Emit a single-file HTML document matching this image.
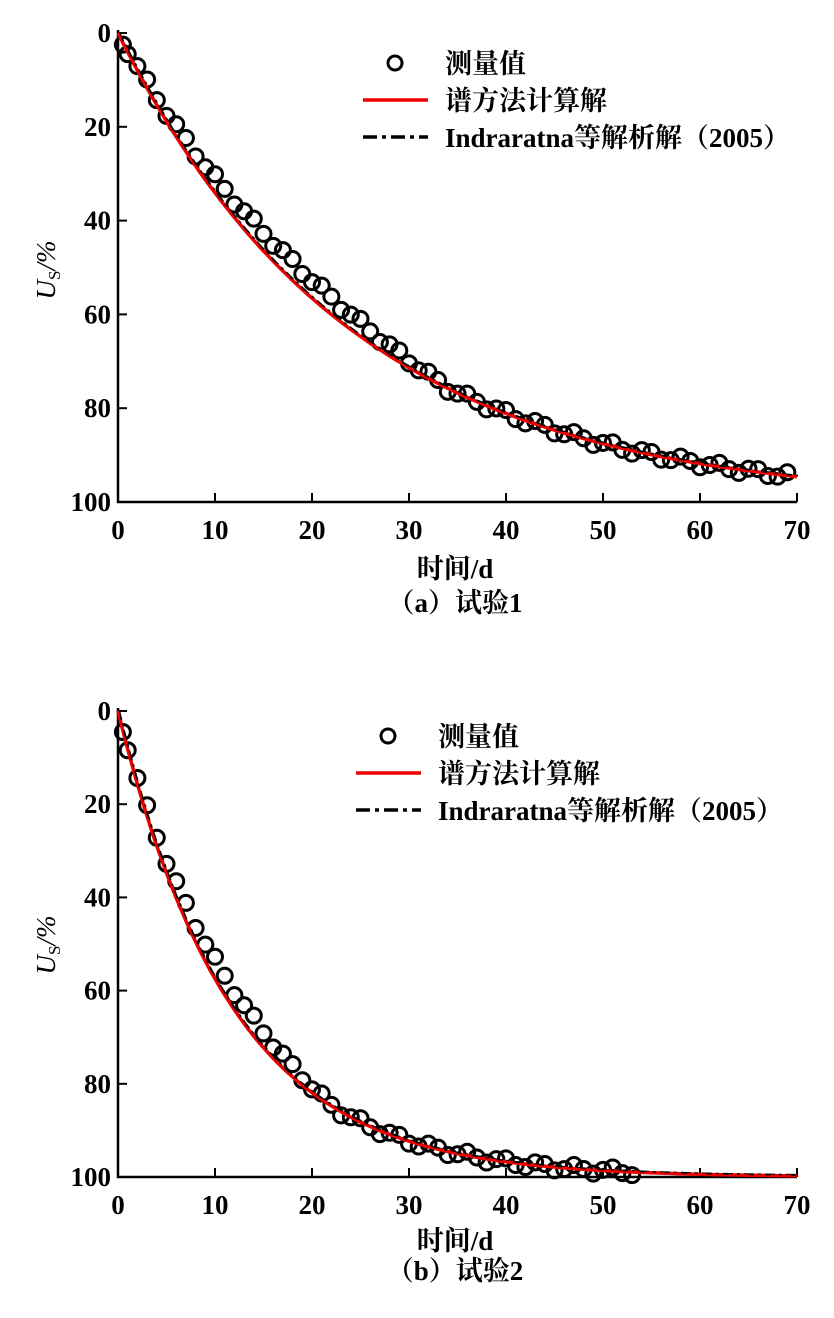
<!DOCTYPE html>
<html><head><meta charset="utf-8"><style>
body{margin:0;background:#fff;width:834px;height:1313px;overflow:hidden}
svg text{font-family:"Liberation Serif","Noto Serif CJK SC",serif;fill:#000}
</style></head><body>
<svg id="s" width="834" height="1313" xmlns="http://www.w3.org/2000/svg">
</svg>
<script>
var s=document.getElementById('s'),NS='http://www.w3.org/2000/svg';
function el(n,a,t){var e=document.createElementNS(NS,n);for(var k in a)e.setAttribute(k,a[k]);if(t)e.textContent=t;s.appendChild(e);return e;}
function chart(y0,y1,tau,amp,span,leg,cap,capY,tY,labY){
 var x0=118,x1=797,kx=(x1-x0)/70,ky=(y1-y0)/100;
 function X(t){return x0+t*kx}function Y(u){return y0+u*ky}
 el('path',{d:'M'+x0+' '+(y0-3)+'V'+y1+'H'+x1,stroke:'#000','stroke-width':2.5,fill:'none'});
 for(var i=0;i<=5;i++){var yy=Y(i*20);el('line',{x1:x0,x2:x0+9,y1:yy,y2:yy,stroke:'#000','stroke-width':2});
  el('text',{x:x0-7,y:yy+9,'font-size':27,'font-weight':'bold','text-anchor':'end'},String(i*20));}
 for(var i=0;i<=7;i++){var xx=X(i*10);el('line',{x1:xx,x2:xx,y1:y1,y2:y1-9,stroke:'#000','stroke-width':2});
  el('text',{x:xx,y:y1+37,'font-size':27,'font-weight':'bold','text-anchor':'middle'},String(i*10));}
 var pts=[];for(var t=0;t<=70;t+=0.5)pts.push(X(t).toFixed(1)+','+Y(100*(1-Math.exp(-t/tau))).toFixed(1));
 var ts=[0.5];for(var t=1;t<=leg.mEnd;t+=1)ts.push(t);
 ts.forEach(function(t){var uc=100*(1-Math.exp(-t/tau));
  var b=t<span?amp*Math.sin(Math.PI*t/span):0;
  var um=Math.min(100,uc-b+Math.sin(t*1.7)*0.8);
  el('circle',{cx:X(t),cy:Y(um),r:7.5,fill:'none',stroke:'#000','stroke-width':3});});
 el('polyline',{points:pts.join(' '),fill:'none',stroke:'#e00','stroke-width':3.5});
 el('polyline',{points:pts.join(' '),fill:'none',stroke:'#000','stroke-width':1.8,'stroke-dasharray':'10,4,3,4',transform:'translate(1,-1)'});
 el('polyline',{points:pts.join(' '),fill:'none',stroke:'#e00','stroke-width':2,'stroke-dasharray':'6,8'});
 var lx=leg.x,ly=leg.y;
 el('circle',{cx:lx+32,cy:ly,r:7,fill:'none',stroke:'#000','stroke-width':3});
 el('line',{x1:lx,x2:lx+65,y1:ly+37,y2:ly+37,stroke:'#e00','stroke-width':3.5});
 el('line',{x1:lx,x2:lx+65,y1:ly+74,y2:ly+74,stroke:'#000','stroke-width':3.5,'stroke-dasharray':'14,5,4,5'});
 var tx=lx+82;
 el('text',{x:tx,y:ly+10,'font-size':27,'font-weight':'bold'},'测量值');
 el('text',{x:tx,y:ly+47,'font-size':27,'font-weight':'bold'},'谱方法计算解');
 el('text',{x:tx,y:ly+84,'font-size':27,'font-weight':'bold'},'Indraratna等解析解（2005）');
 var t=el('text',{x:0,y:0,'font-size':27,'font-style':'italic',transform:'translate(55,'+labY+') rotate(-90)','text-anchor':'middle'},'');
 t.innerHTML='U<tspan font-size="17" font-style="normal" dy="5">S</tspan><tspan dy="-5">/%</tspan>';
 el('text',{x:455,y:tY,'font-size':27,'font-weight':'bold','text-anchor':'middle'},'时间/d');
 el('text',{x:455,y:capY,'font-size':27,'font-weight':'bold','text-anchor':'middle'},cap);
}
chart(33,502,24,4,34,{x:363,y:63,mEnd:69},'（a）试验1',612,578,270);
chart(711,1177,11.7,4,22,{x:356,y:736,mEnd:53},'（b）试验2',1280,1250,945);
</script>
</body></html>
